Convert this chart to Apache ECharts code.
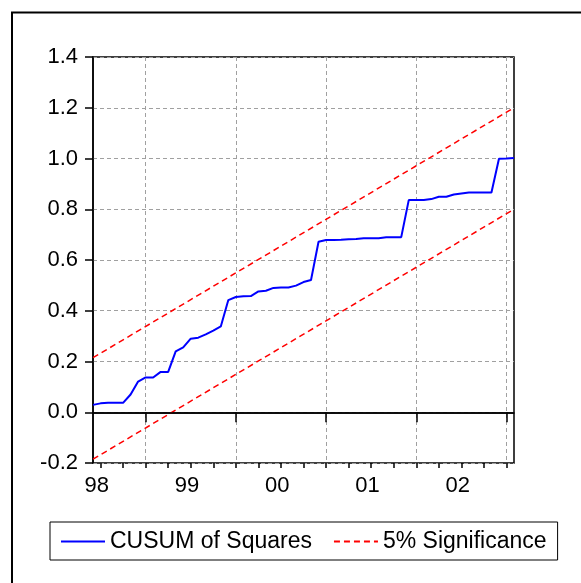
<!DOCTYPE html>
<html>
<head>
<meta charset="utf-8">
<title>CUSUM of Squares</title>
<script src="https://cdn.jsdelivr.net/npm/echarts@6/dist/echarts.min.js"></script>
<style>
  html, body { margin: 0; padding: 0; background: #fff; }
  #chart { width: 581px; height: 583px; }
</style>
</head>
<body>
<div id="chart"></div>
<script>
// monthly observations, 1998M06 - 2003M02
const months = [
  '1998M06', '1998M07', '1998M08', '1998M09', '1998M10', '1998M11', '1998M12',
  '1999M01', '1999M02', '1999M03', '1999M04', '1999M05', '1999M06',
  '1999M07', '1999M08', '1999M09', '1999M10', '1999M11', '1999M12',
  '2000M01', '2000M02', '2000M03', '2000M04', '2000M05', '2000M06',
  '2000M07', '2000M08', '2000M09', '2000M10', '2000M11', '2000M12',
  '2001M01', '2001M02', '2001M03', '2001M04', '2001M05', '2001M06',
  '2001M07', '2001M08', '2001M09', '2001M10', '2001M11', '2001M12',
  '2002M01', '2002M02', '2002M03', '2002M04', '2002M05', '2002M06',
  '2002M07', '2002M08', '2002M09', '2002M10', '2002M11', '2002M12',
  '2003M01', '2003M02'
]

const cusumSq = [
  0.029, 0.035, 0.037, 0.037, 0.037, 0.070, 0.121,
  0.137, 0.137, 0.159, 0.159, 0.240, 0.256,
  0.290, 0.294, 0.307, 0.322, 0.338, 0.442,
  0.454, 0.457, 0.458, 0.476, 0.479, 0.490,
  0.492, 0.492, 0.499, 0.513, 0.521, 0.672,
  0.679, 0.679, 0.680, 0.682, 0.683, 0.686,
  0.686, 0.686, 0.690, 0.690, 0.690, 0.836,
  0.836, 0.836, 0.840, 0.849, 0.849, 0.858,
  0.862, 0.866, 0.866, 0.866, 0.866, 0.999,
  1.000, 1.002
]

// 5% significance bounds: value at first and last observation
const upperBound = [0.215, 1.2]
const lowerBound = [-0.185, 0.8]

const yearLabels = ['98', '99', '00', '01', '02']
const yearLabelMonths = ['1998M07', '1999M07', '2000M07', '2001M07', '2002M07']
const quarterMonths = ['M01', 'M04', 'M07', 'M10']

const FONT = '"Liberation Sans", Arial, Helvetica, sans-serif'
const GRID_GREY = '#a0a0a0'

const isJan = (v) => v.slice(-3) === 'M01'
const isQuarter = (v) => quarterMonths.includes(v.slice(-3))
const first = months[0]
const last = months[months.length - 1]

const chart = echarts.init(document.getElementById('chart'))

chart.setOption({
  animation: false,
  backgroundColor: '#fff',
  textStyle: { fontFamily: FONT },
  graphic: [
    {
      // outer frame (only left and top edges are inside the picture)
      type: 'rect',
      shape: { x: 12, y: 12.5, width: 700, height: 700 },
      style: { fill: 'none', stroke: '#000', lineWidth: 2 },
      silent: true
    }
  ],
  grid: {
    left: 93,
    right: 67,
    top: 57,
    bottom: 120,
    show: true,
    borderColor: '#000',
    borderWidth: 1.5,
    backgroundColor: 'transparent'
  },
  legend: {
    left: 50,
    top: 522,
    orient: 'horizontal',
    padding: [8, 11, 7, 10],
    itemGap: 21,
    itemWidth: 44,
    itemHeight: 14,
    borderColor: '#000',
    borderWidth: 1,
    // hide the marker dot, keep the line sample
    itemStyle: { opacity: 0, borderWidth: 0 },
    textStyle: { fontSize: 23, color: '#000', fontFamily: FONT },
    data: ['CUSUM of Squares', '5% Significance']
  },
  xAxis: [
    {
      type: 'category',
      data: months,
      boundaryGap: false,
      position: 'bottom',
      axisLine: { show: true, lineStyle: { color: '#000', width: 1.5 } },
      axisTick: {
        show: true,
        length: 10,
        interval: (i, v) => isJan(v),
        lineStyle: { color: '#000', width: 1.5 }
      },
      axisLabel: {
        show: true,
        interval: (i, v) => yearLabelMonths.includes(v),
        formatter: (v) => yearLabels[yearLabelMonths.indexOf(v)],
        fontSize: 22,
        color: '#000',
        margin: 12,
        padding: [0, 7.5, 0, 0]
      },
      splitLine: {
        show: true,
        interval: (i, v) => isJan(v),
        lineStyle: { color: GRID_GREY, type: [4, 3], width: 1 }
      }
    },
    {
      // quarterly minor ticks
      type: 'category',
      data: months,
      boundaryGap: false,
      position: 'bottom',
      axisLine: { show: false },
      axisTick: {
        show: true,
        length: 5,
        interval: (i, v) => isQuarter(v),
        lineStyle: { color: '#000', width: 1.5 }
      },
      axisLabel: { show: false },
      splitLine: { show: false }
    }
  ],
  yAxis: {
    type: 'value',
    min: -0.2,
    max: 1.4,
    interval: 0.2,
    axisLine: { show: true, lineStyle: { color: '#000', width: 1.5 } },
    axisTick: { show: true, length: 8, lineStyle: { color: '#000', width: 1.5 } },
    axisLabel: {
      fontSize: 22,
      color: '#000',
      margin: 15,
      formatter: (v) => v.toFixed(1)
    },
    splitLine: {
      show: true,
      lineStyle: { color: GRID_GREY, type: [4, 3], width: 1 }
    }
  },
  series: [
    {
      name: '5% Significance',
      type: 'line',
      xAxisIndex: 0,
      symbol: 'none',
      data: [[first, upperBound[0]], [last, upperBound[1]]],
      lineStyle: { color: '#ff0000', width: 1.5, type: [6, 4] },
      itemStyle: { color: '#ff0000' },
      z: 3
    },
    {
      name: '5% Significance',
      type: 'line',
      xAxisIndex: 0,
      symbol: 'none',
      data: [[first, lowerBound[0]], [last, lowerBound[1]]],
      lineStyle: { color: '#ff0000', width: 1.5, type: [6, 4] },
      itemStyle: { color: '#ff0000' },
      z: 3
    },
    {
      name: 'CUSUM of Squares',
      type: 'line',
      xAxisIndex: 0,
      symbol: 'none',
      data: cusumSq,
      lineStyle: { color: '#0000ff', width: 2 },
      itemStyle: { color: '#0000ff' },
      z: 4,
      markLine: {
        silent: true,
        symbol: 'none',
        label: { show: false },
        lineStyle: { color: '#000', type: 'solid', width: 1.5 },
        data: [{ yAxis: 0 }]
      }
    }
  ]
})

window.addEventListener('resize', () => chart.resize())
</script>
</body>
</html>
